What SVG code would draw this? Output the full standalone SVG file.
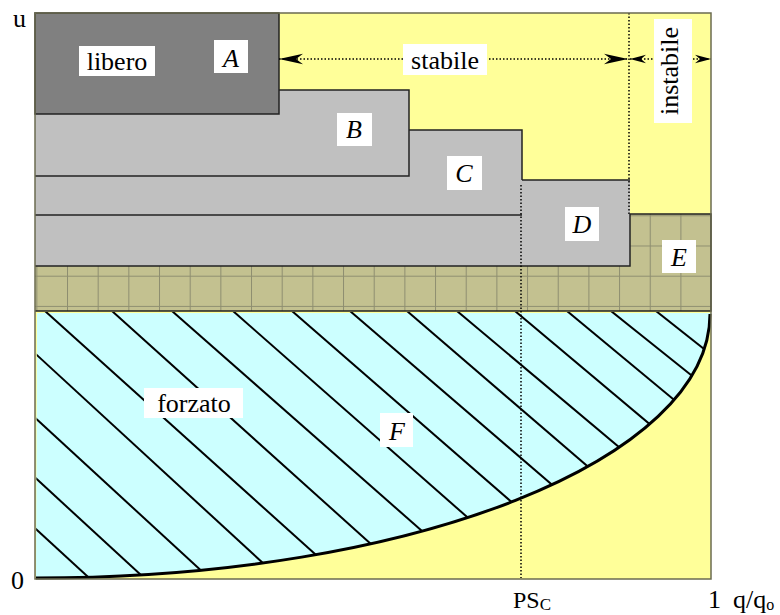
<svg xmlns="http://www.w3.org/2000/svg" width="780" height="615" viewBox="0 0 780 615" font-family="'Liberation Serif', 'Times New Roman', 'DejaVu Serif', serif">
<style>
text{font-family:'Liberation Serif','Times New Roman','DejaVu Serif',serif;font-size:26px;fill:#000}
.it{font-style:italic}
.lbl{fill:#fff}
.edge{fill:none;stroke:#222;stroke-width:1.5}
.dot{fill:none;stroke:#000;stroke-width:1.5;stroke-dasharray:1.5 2}
.hatch line{stroke:#000;stroke-width:2}
</style>
<defs>
<pattern id="grid" patternUnits="userSpaceOnUse" x="36.33" y="215.3" width="30.67" height="30.2">
<rect width="30.67" height="30.2" fill="#c3c190"/>
<path d="M0.5,0 V30.2 M0,0.5 H30.67" stroke="#8e8e70" stroke-width="1" fill="none"/>
</pattern>
<clipPath id="fclip"><path d="M37,312 H711 V314 C711,459 416,578 36,578 Z"/></clipPath>
<marker id="ah" markerUnits="userSpaceOnUse" markerWidth="26" markerHeight="12" refX="24" refY="6" orient="auto-start-reverse" viewBox="0 0 26 12">
<path d="M24,6 L0,0.8 L7,6 L0,11.2 Z" fill="#000"/>
</marker>
<marker id="ahs" markerUnits="userSpaceOnUse" markerWidth="18" markerHeight="10" refX="16" refY="5" orient="auto-start-reverse" viewBox="0 0 18 10">
<path d="M16,5 L0,0.8 L5,5 L0,9.2 Z" fill="#000"/>
</marker>
</defs>

<rect id="background" x="35" y="13" width="676" height="566" fill="#ffff99"/>

<g id="E">
<rect x="35" y="214" width="676" height="97" fill="url(#grid)"/>
<path class="edge" d="M630,214 H711 V311 H35"/>
<rect class="lbl" x="662" y="240" width="34" height="33"/>
<text class="it" x="679" y="266" text-anchor="middle">E</text>
</g>

<g id="D">
<rect x="35" y="180" width="595" height="86" fill="#c0c0c0"/>
<path class="edge" d="M522,180 H630 M630,214 V266 H35"/>
<rect class="lbl" x="565" y="207" width="34" height="34"/>
<text class="it" x="582" y="233" text-anchor="middle">D</text>
</g>

<g id="C">
<rect x="35" y="130" width="487" height="85" fill="#c0c0c0"/>
<path class="edge" d="M409,130 H522 V180 M522,215 H35"/>
<rect class="lbl" x="447" y="156" width="35" height="34"/>
<text class="it" x="464" y="182" text-anchor="middle">C</text>
</g>

<g id="B">
<rect x="35" y="90" width="374" height="86" fill="#c0c0c0"/>
<path class="edge" d="M279,90 H409 V176 H35"/>
<rect class="lbl" x="337" y="113" width="35" height="33"/>
<text class="it" x="354" y="138" text-anchor="middle">B</text>
</g>

<g id="A">
<rect x="35" y="13" width="244" height="101" fill="#808080" stroke="#222" stroke-width="1.5"/>
<rect class="lbl" x="79" y="46" width="76" height="30"/>
<text x="117" y="70" text-anchor="middle">libero</text>
<rect class="lbl" x="214" y="40" width="34" height="33"/>
<text class="it" x="231" y="67" text-anchor="middle">A</text>
</g>

<g id="F">
<path d="M37,313 H711 V314 C711,459 416,578 36,578 Z" fill="#ccffff"/>
<g class="hatch" clip-path="url(#fclip)">
<line x1="-201" y1="311" x2="299" y2="771"/>
<line x1="-146" y1="311" x2="354" y2="771"/>
<line x1="-81" y1="311" x2="419" y2="771"/>
<line x1="-11" y1="311" x2="489" y2="771"/>
<line x1="45" y1="311" x2="545" y2="761"/>
<line x1="112" y1="311" x2="612" y2="761"/>
<line x1="172" y1="311" x2="672" y2="751"/>
<line x1="233" y1="311" x2="733" y2="751"/>
<line x1="292" y1="311" x2="792" y2="746"/>
<line x1="350" y1="311" x2="850" y2="741"/>
<line x1="407" y1="311" x2="907" y2="741"/>
<line x1="457" y1="311" x2="957" y2="731"/>
<line x1="515" y1="311" x2="1015" y2="731"/>
<line x1="567" y1="311" x2="1067" y2="726"/>
<line x1="611" y1="311" x2="1111" y2="711"/>
<line x1="656" y1="311" x2="1156" y2="706"/>
</g>
<path d="M36,578 C416,578 710,459 710,314" fill="none" stroke="#000" stroke-width="3"/>
</g>

<g id="connectors">
<line class="dot" x1="629" y1="13" x2="629" y2="214"/>
<line class="dot" x1="521" y1="185" x2="521" y2="578"/>
<line class="dot" x1="279" y1="59" x2="628" y2="59" marker-start="url(#ah)" marker-end="url(#ah)"/>
<line class="dot" x1="630" y1="59" x2="711" y2="59" marker-start="url(#ahs)" marker-end="url(#ahs)"/>
</g>

<g id="labels">
<rect class="lbl" x="403" y="44" width="84" height="31"/>
<text x="445" y="69" text-anchor="middle">stabile</text>
<rect class="lbl" x="654" y="19" width="38" height="104"/>
<text transform="translate(678,71) rotate(-90)" text-anchor="middle">instabile</text>
<rect class="lbl" x="144" y="388" width="99" height="30"/>
<text x="194" y="412" text-anchor="middle">forzato</text>
<rect class="lbl" x="380" y="413" width="33" height="34"/>
<text class="it" x="397" y="440" text-anchor="middle">F</text>
</g>

<rect x="35" y="13" width="676" height="566" fill="none" stroke="#6b6b50" stroke-width="1.5"/>

<g id="axes">
<text x="13" y="27">u</text>
<text x="11" y="589">0</text>
<text x="513" y="608" style="font-size:24px">PS<tspan dy="2" style="font-size:17px">C</tspan></text>
<text x="708" y="608">1</text>
<text x="733" y="608">q/q<tspan dy="2" style="font-size:16px">o</tspan></text>
</g>
</svg>
